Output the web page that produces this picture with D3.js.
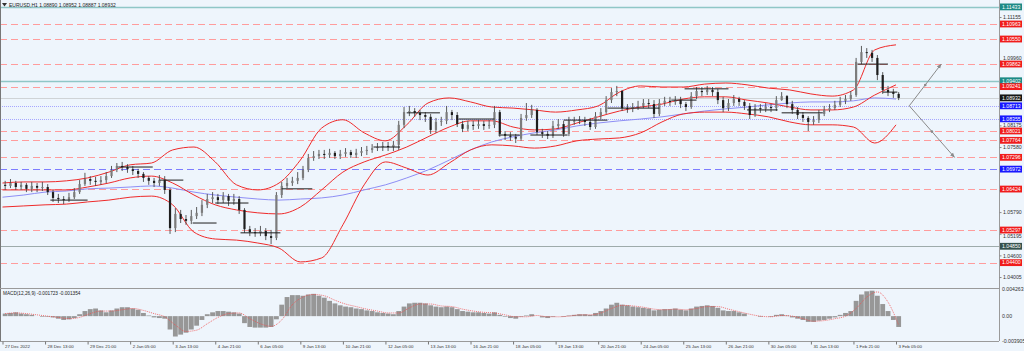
<!DOCTYPE html>
<html>
<head>
<meta charset="utf-8">
<script src="https://cdn.jsdelivr.net/npm/d3@7"></script>
<style>
body{margin:0;background:#eef5fc;}
svg{display:block;font-family:"Liberation Sans",Arial,sans-serif;}
</style>
</head>
<body>
<svg id="chart" width="1024" height="351"></svg>
<script>
// ---- data (EURUSD H1, one candle per 4 hours) ----
const opens = [
1.0654,1.0651,1.0659,1.0648,1.0654,1.0643,1.0651,1.0646,1.0648,1.0634,
1.0618,1.0615,1.0612,1.0620,1.0634,1.0656,1.0670,1.0665,1.0662,1.0667,
1.0678,1.0695,1.0706,1.0703,1.0697,1.0692,1.0684,1.0673,1.0665,1.0659,
1.0667,1.0640,1.0535,1.0574,1.0560,1.0555,1.0568,1.0577,1.0599,1.0615,
1.0620,1.0612,1.0623,1.0610,1.0615,1.0585,1.0532,1.0524,1.0521,1.0527,
1.0513,1.0508,1.0626,1.0651,1.0659,1.0665,1.0673,1.0695,1.0728,1.0733,
1.0739,1.0736,1.0742,1.0733,1.0739,1.0744,1.0736,1.0742,1.0747,1.0750,
1.0755,1.0758,1.0761,1.0758,1.0764,1.0819,1.0854,1.0857,1.0852,1.0846,
1.0841,1.0805,1.0827,1.0830,1.0854,1.0846,1.0821,1.0808,1.0819,1.0816,
1.0821,1.0816,1.0819,1.0854,1.0794,1.0789,1.0786,1.0781,1.0838,1.0846,
1.0860,1.0799,1.0794,1.0789,1.0816,1.0821,1.0794,1.0830,1.0830,1.0832,
1.0827,1.0813,1.0843,1.0854,1.0887,1.0909,1.0912,1.0865,1.0863,1.0868,
1.0871,1.0879,1.0876,1.0849,1.0879,1.0885,1.0882,1.0887,1.0876,1.0868,
1.0898,1.0912,1.0909,1.0915,1.0909,1.0887,1.0865,1.0879,1.0890,1.0882,
1.0871,1.0846,1.0865,1.0863,1.0868,1.0865,1.0887,1.0898,1.0876,1.0860,
1.0846,1.0838,1.0827,1.0832,1.0849,1.0860,1.0865,1.0874,1.0885,1.0890,
1.0901,1.0992,1.1019,1.1017,1.1003,1.0956,1.0915,1.0909,1.0904];
const closes = [
1.0651,1.0659,1.0648,1.0654,1.0643,1.0651,1.0646,1.0648,1.0634,1.0618,
1.0615,1.0612,1.0620,1.0634,1.0656,1.0670,1.0665,1.0662,1.0667,1.0678,
1.0695,1.0706,1.0703,1.0697,1.0692,1.0684,1.0673,1.0665,1.0659,1.0667,
1.0640,1.0535,1.0574,1.0560,1.0555,1.0568,1.0577,1.0599,1.0615,1.0620,
1.0612,1.0623,1.0610,1.0615,1.0585,1.0532,1.0524,1.0521,1.0527,1.0513,
1.0508,1.0626,1.0651,1.0659,1.0665,1.0673,1.0695,1.0728,1.0733,1.0739,
1.0736,1.0742,1.0733,1.0739,1.0744,1.0736,1.0742,1.0747,1.0750,1.0755,
1.0758,1.0761,1.0758,1.0764,1.0819,1.0854,1.0857,1.0852,1.0846,1.0841,
1.0805,1.0827,1.0830,1.0854,1.0846,1.0821,1.0808,1.0819,1.0816,1.0821,
1.0816,1.0819,1.0854,1.0794,1.0789,1.0786,1.0781,1.0838,1.0846,1.0860,
1.0799,1.0794,1.0789,1.0816,1.0821,1.0794,1.0830,1.0830,1.0832,1.0827,
1.0813,1.0843,1.0854,1.0887,1.0909,1.0912,1.0865,1.0863,1.0868,1.0871,
1.0879,1.0876,1.0849,1.0879,1.0885,1.0882,1.0887,1.0876,1.0868,1.0898,
1.0912,1.0909,1.0915,1.0909,1.0887,1.0865,1.0879,1.0890,1.0882,1.0871,
1.0846,1.0865,1.0863,1.0868,1.0865,1.0887,1.0898,1.0876,1.0860,1.0846,
1.0838,1.0827,1.0832,1.0849,1.0860,1.0865,1.0874,1.0885,1.0890,1.0901,
1.0992,1.1019,1.1017,1.1003,1.0956,1.0915,1.0909,1.0904,1.0893];
const highs = [
1.0665,1.0670,1.0665,1.0662,1.0659,1.0662,1.0659,1.0662,1.0656,1.0640,
1.0629,1.0623,1.0632,1.0645,1.0667,1.0687,1.0678,1.0676,1.0678,1.0689,
1.0706,1.0714,1.0717,1.0711,1.0706,1.0698,1.0689,1.0678,1.0673,1.0681,
1.0678,1.0645,1.0590,1.0585,1.0571,1.0585,1.0593,1.0612,1.0629,1.0634,
1.0629,1.0634,1.0629,1.0629,1.0623,1.0590,1.0541,1.0535,1.0541,1.0535,
1.0530,1.0634,1.0662,1.0673,1.0676,1.0689,1.0706,1.0739,1.0747,1.0750,
1.0750,1.0753,1.0747,1.0750,1.0755,1.0750,1.0753,1.0758,1.0761,1.0766,
1.0769,1.0772,1.0772,1.0775,1.0830,1.0868,1.0871,1.0865,1.0860,1.0854,
1.0849,1.0838,1.0841,1.0871,1.0860,1.0854,1.0830,1.0830,1.0830,1.0832,
1.0830,1.0832,1.0871,1.0860,1.0802,1.0799,1.0794,1.0849,1.0879,1.0874,
1.0865,1.0808,1.0802,1.0830,1.0835,1.0830,1.0841,1.0841,1.0843,1.0841,
1.0838,1.0854,1.0865,1.0898,1.0920,1.0926,1.0915,1.0876,1.0879,1.0885,
1.0890,1.0890,1.0887,1.0890,1.0896,1.0896,1.0898,1.0896,1.0882,1.0909,
1.0923,1.0923,1.0926,1.0923,1.0918,1.0896,1.0890,1.0901,1.0896,1.0887,
1.0879,1.0876,1.0876,1.0879,1.0876,1.0898,1.0909,1.0901,1.0885,1.0868,
1.0854,1.0843,1.0843,1.0860,1.0871,1.0876,1.0885,1.0896,1.0901,1.0912,
1.1003,1.1036,1.1030,1.1025,1.1011,1.0964,1.0926,1.0918,1.0909];
const lows = [
1.0640,1.0645,1.0640,1.0640,1.0634,1.0634,1.0634,1.0637,1.0626,1.0607,
1.0604,1.0601,1.0607,1.0615,1.0629,1.0651,1.0654,1.0651,1.0654,1.0659,
1.0673,1.0689,1.0692,1.0687,1.0681,1.0673,1.0662,1.0654,1.0648,1.0651,
1.0629,1.0519,1.0524,1.0549,1.0544,1.0546,1.0560,1.0568,1.0590,1.0604,
1.0601,1.0604,1.0596,1.0599,1.0574,1.0522,1.0513,1.0511,1.0513,1.0502,
1.0491,1.0502,1.0618,1.0645,1.0651,1.0656,1.0667,1.0689,1.0720,1.0725,
1.0725,1.0728,1.0725,1.0725,1.0731,1.0728,1.0728,1.0733,1.0736,1.0742,
1.0747,1.0747,1.0747,1.0747,1.0750,1.0810,1.0843,1.0841,1.0832,1.0827,
1.0794,1.0797,1.0816,1.0821,1.0832,1.0813,1.0799,1.0802,1.0805,1.0808,
1.0805,1.0808,1.0810,1.0786,1.0777,1.0775,1.0769,1.0775,1.0830,1.0838,
1.0791,1.0783,1.0780,1.0783,1.0808,1.0786,1.0788,1.0819,1.0821,1.0816,
1.0805,1.0808,1.0835,1.0849,1.0879,1.0898,1.0857,1.0852,1.0854,1.0860,
1.0865,1.0865,1.0838,1.0843,1.0871,1.0871,1.0874,1.0865,1.0857,1.0863,
1.0890,1.0898,1.0901,1.0898,1.0876,1.0854,1.0857,1.0871,1.0871,1.0860,
1.0835,1.0841,1.0852,1.0854,1.0854,1.0857,1.0885,1.0865,1.0849,1.0835,
1.0827,1.0802,1.0819,1.0824,1.0843,1.0854,1.0860,1.0868,1.0876,1.0885,
1.0896,1.0986,1.1003,1.0992,1.0942,1.0904,1.0898,1.0893,1.0887];

// Bollinger bands and slow MA, one value every 16 hours
const bbUpper = [
1.0659,1.0662,1.0662,1.0665,1.0673,1.0689,1.0709,1.0714,1.0750,1.0758,
1.0717,1.0654,1.0640,1.0659,1.0722,1.0810,1.0833,1.0797,1.0775,1.0819,
1.0879,1.0893,1.0882,1.0868,1.0865,1.0860,1.0854,1.0860,1.0871,1.0909,
1.0926,1.0923,1.0923,1.0931,1.0934,1.0929,1.0920,1.0915,1.0904,1.0898,
1.0915,1.1025,1.1039];
const bbMiddle = [
1.0640,1.0640,1.0640,1.0640,1.0648,1.0659,1.0673,1.0678,1.0659,1.0626,
1.0599,1.0585,1.0577,1.0574,1.0593,1.0640,1.0689,1.0717,1.0736,1.0758,
1.0786,1.0813,1.0830,1.0830,1.0813,1.0805,1.0808,1.0824,1.0841,1.0857,
1.0868,1.0876,1.0890,1.0896,1.0896,1.0887,1.0879,1.0868,1.0860,1.0860,
1.0868,1.0901,1.0929];
const bbLower = [
1.0593,1.0596,1.0599,1.0601,1.0607,1.0612,1.0620,1.0623,1.0599,1.0524,
1.0505,1.0502,1.0494,1.0480,1.0442,1.0453,1.0544,1.0654,1.0717,1.0700,
1.0681,1.0714,1.0750,1.0764,1.0761,1.0755,1.0761,1.0775,1.0780,1.0783,
1.0797,1.0827,1.0849,1.0854,1.0854,1.0849,1.0841,1.0827,1.0819,1.0819,
1.0813,1.0769,1.0819];
const slowMA = [
1.0620,1.0626,1.0634,1.0637,1.0643,1.0645,1.0648,1.0651,1.0645,1.0634,
1.0626,1.0620,1.0615,1.0612,1.0615,1.0618,1.0626,1.0640,1.0654,1.0673,
1.0695,1.0722,1.0750,1.0772,1.0786,1.0797,1.0805,1.0816,1.0824,1.0830,
1.0835,1.0841,1.0849,1.0857,1.0863,1.0868,1.0874,1.0879,1.0882,1.0882,
1.0885,1.0893,1.0890];

// MACD(12,26,9): histogram per candle, signal every 8 hours
const macdHist = [
0.0004,0.0005,0.0006,0.0004,0.0003,0.0002,0.0000,-0.0001,-0.0001,-0.0002,
-0.0004,-0.0006,-0.0005,-0.0003,0.0003,0.0008,0.0011,0.0012,0.0009,0.0006,
0.0009,0.0012,0.0014,0.0014,0.0012,0.0010,0.0005,0.0001,-0.0002,-0.0003,
-0.0004,-0.0021,-0.0032,-0.0029,-0.0026,-0.0021,-0.0015,-0.0006,0.0003,0.0006,
0.0008,0.0008,0.0007,0.0006,0.0004,-0.0011,-0.0017,-0.0018,-0.0018,-0.0018,
-0.0017,-0.0005,0.0018,0.0030,0.0033,0.0033,0.0032,0.0034,0.0035,0.0032,
0.0029,0.0024,0.0020,0.0017,0.0015,0.0014,0.0012,0.0011,0.0009,0.0008,
0.0006,0.0005,0.0004,0.0003,0.0008,0.0015,0.0020,0.0021,0.0021,0.0020,
0.0017,0.0015,0.0014,0.0015,0.0014,0.0011,0.0008,0.0007,0.0006,0.0006,
0.0005,0.0004,0.0006,0.0002,-0.0001,-0.0003,-0.0004,-0.0001,0.0001,0.0003,
0.0000,-0.0002,-0.0003,-0.0001,0.0000,-0.0001,0.0001,0.0002,0.0003,0.0003,
0.0002,0.0005,0.0008,0.0012,0.0018,0.0021,0.0018,0.0017,0.0015,0.0014,
0.0013,0.0012,0.0009,0.0010,0.0011,0.0011,0.0012,0.0010,0.0009,0.0012,
0.0015,0.0016,0.0017,0.0016,0.0013,0.0009,0.0008,0.0008,0.0006,0.0004,
0.0000,0.0000,-0.0001,0.0000,-0.0001,0.0002,0.0003,0.0001,-0.0002,-0.0004,
-0.0006,-0.0009,-0.0009,-0.0007,-0.0006,-0.0004,-0.0002,0.0002,0.0005,0.0008,
0.0024,0.0034,0.0039,0.0040,0.0032,0.0019,0.0008,-0.0006,-0.0017];
const macdSignal = [
0.0004,0.0005,0.0004,0.0002,0.0000,-0.0002,-0.0004,-0.0002,0.0004,0.0008,
0.0008,0.0010,0.0012,0.0009,0.0004,-0.0001,-0.0014,-0.0024,-0.0022,-0.0012,
-0.0002,0.0004,0.0005,-0.0004,-0.0012,-0.0016,-0.0006,0.0018,0.0030,0.0034,
0.0032,0.0025,0.0019,0.0015,0.0011,0.0008,0.0005,0.0005,0.0013,0.0019,
0.0019,0.0016,0.0015,0.0011,0.0008,0.0006,0.0005,0.0002,-0.0001,-0.0001,
0.0001,-0.0001,-0.0001,0.0000,0.0002,0.0002,0.0005,0.0012,0.0017,0.0016,
0.0014,0.0011,0.0010,0.0011,0.0010,0.0012,0.0015,0.0015,0.0011,0.0007,
0.0003,0.0000,-0.0001,0.0001,0.0000,-0.0004,-0.0008,-0.0007,-0.0004,0.0000,
0.0012,0.0030,0.0038,0.0022,-0.0014];

// horizontal levels drawn on the chart
const levelPrices = [1.11433,1.10963,1.10550,1.09862,1.09402,1.09241,1.08932,1.08713,1.08355,
                     1.08021,1.07764,1.07296,1.06972,1.06424,1.05297,1.04850,1.04400];
const levelKinds  = ["teal","red","red","red","teal","red","price","dot","dot",
                     "red","red","red","blue","red","red","gray","red"];

// short black session lines: start hour, end hour, price
const segStart = [36, 87, 118, 143, 160, 179, 210, 279, 304, 343, 373, 397, 422, 455, 503, 513, 560, 586, 643, 662];
const segEnd   = [64, 113, 136, 161, 185, 209, 233, 299, 329, 370, 389, 425, 455, 494, 522, 546, 583, 617, 666, 673];
const segPrice = [1.0612,1.0703,1.0667,1.0549,1.0604,1.0522,1.0643,1.0758,1.0852,1.0835,
                  1.0791,1.0791,1.0832,1.0865,1.0887,1.0918,1.0860,1.0852,1.0986,1.0909];

// forecast arrows
const fcOrigin = {hour: 682, price: 1.08713};
const fcTargets = [{hour: 706, price: 1.09862}, {hour: 716, price: 1.07296}];

const priceTicks = [1.11155,1.10560,1.09960,1.09370,1.08770,1.08175,1.07580,1.06985,1.06390,1.05790,1.05195,1.04600,1.04005];
const timeLabels = ["27 Dec 2022","28 Dec 13:00","29 Dec 21:00","2 Jan 05:00","3 Jan 13:00","4 Jan 21:00",
  "6 Jan 05:00","9 Jan 13:00","10 Jan 21:00","12 Jan 05:00","13 Jan 13:00","16 Jan 21:00","18 Jan 05:00",
  "19 Jan 13:00","20 Jan 21:00","24 Jan 05:00","25 Jan 13:00","26 Jan 21:00","30 Jan 05:00","31 Jan 13:00",
  "1 Feb 21:00","3 Feb 05:00"];
const macdTicks = [0.004263, 0, -0.003905];
const macdTickLabels = ["0.004263", "0.00", "-0.003905"];

// ---- layout ----
const WIDTH = 1024, HEIGHT = 351;
const PLOT_RIGHT = 999;
const MAIN_BOTTOM = 288;
const MACD_TOP = 289, MACD_BOTTOM = 341;

const svg = d3.select("#chart");
svg.append("rect").attr("width", WIDTH).attr("height", HEIGHT).attr("fill", "#eef5fc");

const x = d3.scaleLinear().domain([0, 672]).range([2.5, 896]);
const y = d3.scaleLinear().domain([1.03703, 1.11623]).range([MAIN_BOTTOM, 0]);
const ym = d3.scaleLinear().domain([-0.003905, 0.004263]).range([MACD_BOTTOM, MACD_TOP]);

const defs = svg.append("defs");
defs.append("clipPath").attr("id", "clipMain")
  .append("rect").attr("x", 0).attr("y", 0).attr("width", PLOT_RIGHT).attr("height", MAIN_BOTTOM);
defs.append("clipPath").attr("id", "clipMacd")
  .append("rect").attr("x", 0).attr("y", MACD_TOP).attr("width", PLOT_RIGHT).attr("height", MACD_BOTTOM - MACD_TOP);
defs.append("marker").attr("id", "arrow").attr("viewBox", "0 0 10 10")
  .attr("refX", 9).attr("refY", 5).attr("markerWidth", 5).attr("markerHeight", 5)
  .attr("orient", "auto")
  .append("path").attr("d", "M0,1 L10,5 L0,9 Z").attr("fill", "#8a8a8a");

const lineStyle = {
  red:   {stroke: "#ff9c9c", dash: "7,4", width: 1},
  teal:  {stroke: "#8fc7c7", dash: null, width: 1.4},
  blue:  {stroke: "#7d7dff", dash: "7,4", width: 1},
  dot:   {stroke: "#a6a6ff", dash: "1,1", width: 1},
  gray:  {stroke: "#9eabab", dash: null, width: 1},
  price: {stroke: "#cfd3d6", dash: null, width: 1}
};
const boxColor = {red: "#f01c1c", teal: "#1d8a86", blue: "#1818ff", dot: "#1818ff", gray: "#35524f", price: "#161616"};

const main = svg.append("g").attr("clip-path", "url(#clipMain)");

// levels
main.selectAll(".level")
  .data(levelPrices)
  .enter().append("line")
  .attr("class", "level")
  .attr("x1", 0).attr("x2", PLOT_RIGHT)
  .attr("y1", d => Math.round(y(d)) + 0.5)
  .attr("y2", d => Math.round(y(d)) + 0.5)
  .attr("stroke", (d, i) => lineStyle[levelKinds[i]].stroke)
  .attr("stroke-width", (d, i) => lineStyle[levelKinds[i]].width)
  .attr("stroke-dasharray", (d, i) => lineStyle[levelKinds[i]].dash);

// bands + slow MA
const bandLine = d3.line()
  .x((d, i) => x(i * 16))
  .y(d => y(d))
  .curve(d3.curveMonotoneX);

main.append("path").datum(slowMA).attr("d", bandLine)
  .attr("fill", "none").attr("stroke", "#8e8ef5").attr("stroke-width", 1);
[bbUpper, bbMiddle, bbLower].forEach(band => {
  main.append("path").datum(band).attr("d", bandLine)
    .attr("fill", "none").attr("stroke", "#ee2a2a").attr("stroke-width", 1);
});

// candles (thin, dark like the H1 strip)
const candles = closes.map((c, i) => ({hour: 4 * i + 2, o: opens[i], c: c, hi: highs[i], lo: lows[i]}));
main.selectAll(".wick")
  .data(candles)
  .enter().append("line")
  .attr("class", "wick")
  .attr("x1", d => x(d.hour)).attr("x2", d => x(d.hour))
  .attr("y1", d => y(d.hi)).attr("y2", d => y(d.lo))
  .attr("stroke", "#4a4a4a").attr("stroke-width", 0.9);
main.selectAll(".body")
  .data(candles)
  .enter().append("rect")
  .attr("class", "body")
  .attr("x", d => x(d.hour) - 1.1)
  .attr("width", 2.2)
  .attr("y", d => y(Math.max(d.o, d.c)))
  .attr("height", d => Math.max(1, Math.abs(y(d.o) - y(d.c))))
  .attr("fill", d => d.c >= d.o ? "#7c7c7c" : "#1e1e1e");

// black session lines
main.selectAll(".seg")
  .data(segPrice)
  .enter().append("line")
  .attr("class", "seg")
  .attr("x1", (d, i) => x(segStart[i])).attr("x2", (d, i) => x(segEnd[i]))
  .attr("y1", d => y(d)).attr("y2", d => y(d))
  .attr("stroke", "#1e1e1e").attr("stroke-width", 1);

// forecast arrows
fcTargets.forEach(t => {
  const x0 = x(fcOrigin.hour), y0 = y(fcOrigin.price);
  const x1 = x(t.hour), y1 = y(t.price);
  main.append("line")
    .attr("x1", x0).attr("y1", y0).attr("x2", x1).attr("y2", y1)
    .attr("stroke", "#8a8a8a").attr("stroke-width", 1)
    .attr("marker-end", "url(#arrow)");
  main.append("circle")
    .attr("cx", (x0 + x1) / 2).attr("cy", (y0 + y1) / 2).attr("r", 1.3)
    .attr("fill", "#8a8a8a");
});

// MACD panel
const macd = svg.append("g").attr("clip-path", "url(#clipMacd)");
macd.selectAll(".hist")
  .data(macdHist)
  .enter().append("rect")
  .attr("class", "hist")
  .attr("x", (d, i) => x(4 * i) + 0.25)
  .attr("width", x(4) - x(0) - 0.5)
  .attr("y", d => Math.min(ym(d), ym(0)))
  .attr("height", d => Math.abs(ym(d) - ym(0)))
  .attr("fill", "#979797");
macd.append("path")
  .datum(macdSignal)
  .attr("d", d3.line().x((d, i) => x(8 * i + 2)).y(d => ym(d)).curve(d3.curveMonotoneX))
  .attr("fill", "none").attr("stroke", "#f05050").attr("stroke-width", 0.8)
  .attr("stroke-dasharray", "1,1");

// frame lines
svg.append("line").attr("x1", 0.5).attr("x2", 0.5).attr("y1", 0).attr("y2", MACD_BOTTOM)
  .attr("stroke", "#777").attr("stroke-width", 1);
svg.append("line").attr("x1", PLOT_RIGHT + 0.5).attr("x2", PLOT_RIGHT + 0.5).attr("y1", 0).attr("y2", MACD_BOTTOM)
  .attr("stroke", "#9a9a9a").attr("stroke-width", 1);
svg.append("line").attr("x1", 0).attr("x2", PLOT_RIGHT).attr("y1", MAIN_BOTTOM + 0.5).attr("y2", MAIN_BOTTOM + 0.5)
  .attr("stroke", "#9a9a9a").attr("stroke-width", 1);
svg.append("line").attr("x1", 0).attr("x2", PLOT_RIGHT).attr("y1", MACD_BOTTOM + 0.5).attr("y2", MACD_BOTTOM + 0.5)
  .attr("stroke", "#9a9a9a").attr("stroke-width", 1);

// right price axis: labels hidden behind a level box are dropped, near ones nudged clear
const boxYs = levelPrices.map(p => y(p));
function tickShift(v) {
  const ty = y(v);
  let shift = 0;
  boxYs.forEach(by => {
    const d = ty - by;
    if (Math.abs(d) >= 2.5 && Math.abs(d) < 6.2) shift = (d > 0 ? 1 : -1) * (6.2 - Math.abs(d));
  });
  return shift;
}
function tickHidden(v) {
  return boxYs.some(by => Math.abs(y(v) - by) < 2.5);
}
const yAxis = svg.append("g")
  .attr("transform", "translate(" + (PLOT_RIGHT + 0.5) + ",0)")
  .call(d3.axisRight(y).tickValues(priceTicks).tickFormat(d3.format(".5f")).tickSize(2).tickPadding(1.5));
yAxis.select(".domain").remove();
yAxis.selectAll("line").attr("stroke", "#888");
yAxis.selectAll("text")
  .attr("font-size", "5.2px").attr("fill", "#333").attr("font-family", "Liberation Sans, Arial")
  .attr("y", d => tickShift(d))
  .style("display", d => tickHidden(d) ? "none" : null);

// level price boxes
const boxes = svg.selectAll(".lbl")
  .data(levelPrices)
  .enter().append("g")
  .attr("class", "lbl")
  .attr("transform", d => "translate(" + (PLOT_RIGHT + 1) + "," + y(d) + ")");
boxes.append("rect")
  .attr("x", 0).attr("y", -3.4).attr("width", 22).attr("height", 6.8)
  .attr("fill", (d, i) => boxColor[levelKinds[i]]);
boxes.append("text")
  .attr("x", 2).attr("y", 1.8)
  .attr("font-size", "5.2px").attr("fill", "#fff")
  .text(d => d.toFixed(5));

// MACD axis labels
svg.selectAll(".mlbl")
  .data(macdTicks)
  .enter().append("text")
  .attr("class", "mlbl")
  .attr("x", PLOT_RIGHT + 3)
  .attr("y", d => ym(d) + 2)
  .attr("font-size", "5.2px").attr("fill", "#333")
  .text((d, i) => macdTickLabels[i]);

// bottom time axis
const xAxis = svg.append("g")
  .attr("transform", "translate(0," + (MACD_BOTTOM + 0.5) + ")")
  .call(d3.axisBottom(x).tickValues(timeLabels.map((d, i) => i * 32))
    .tickFormat((d, i) => timeLabels[i]).tickSize(3).tickPadding(1));
xAxis.select(".domain").remove();
xAxis.selectAll("line").attr("stroke", "#777");
xAxis.selectAll("text")
  .attr("text-anchor", "start").attr("x", 2).attr("dy", "0.5em")
  .attr("font-size", "4.4px").attr("fill", "#333").attr("font-family", "Liberation Sans, Arial");

// headers
svg.append("path").attr("d", "M2,3 L7,3 L4.5,6.5 Z").attr("fill", "#333");
svg.append("text").attr("x", 9).attr("y", 7)
  .attr("font-size", "5px").attr("fill", "#222")
  .text("EURUSD,H1  1.08890 1.08952 1.08887 1.08932");
svg.append("text").attr("x", 3).attr("y", MACD_TOP + 6)
  .attr("font-size", "4.7px").attr("fill", "#222")
  .text("MACD(12,26,9) -0.001723 -0.001354");
</script>
</body>
</html>
